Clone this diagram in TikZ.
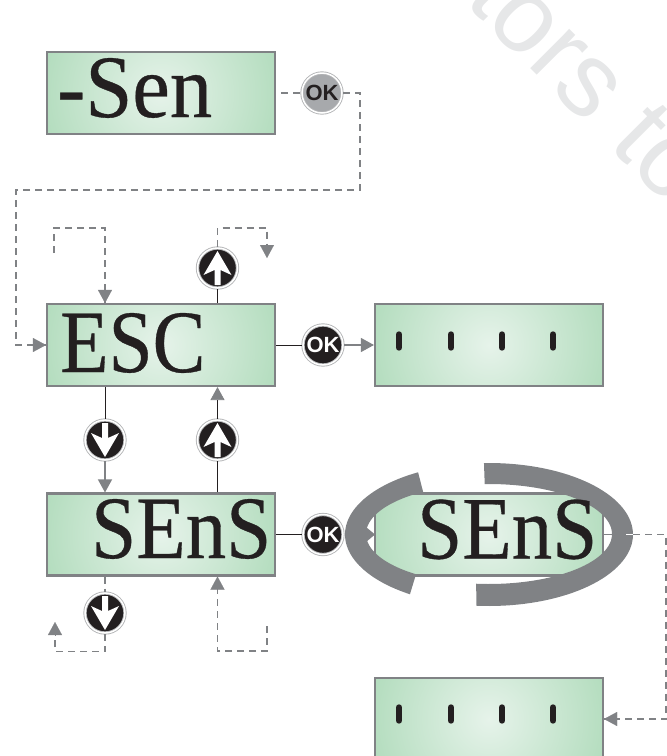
\documentclass[tikz,border=0pt]{standalone}
\usepackage{fontspec}
\setmainfont{Liberation Serif}
\newfontfamily\okfont{Liberation Sans}
\newfontfamily\lcdfont[FakeBold=0.4]{Liberation Serif}
\usetikzlibrary{arrows.meta,calc}
\definecolor{lcdgreen}{HTML}{A9D8B5}
\definecolor{lcdglow}{HTML}{E6F3EA}
\definecolor{framegray}{HTML}{808285}
\definecolor{ink}{HTML}{231F20}
\definecolor{ringgray}{HTML}{B4B5B7}
\definecolor{btngray}{HTML}{A7A9AC}
\definecolor{marklight}{HTML}{E6E7E8}
\tikzset{
  x=1pt,y=-1pt,
  lcd/.style={draw=framegray,line width=2.1pt,fill=lcdgreen,minimum width=228pt,minimum height=82pt,inner sep=0pt,
    path picture={\shade[inner color=lcdglow,outer color=lcdgreen] (path picture bounding box.center) circle (145pt);}},
  lcdtext/.style={anchor=base west,inner sep=0pt,text=ink,font=\lcdfont\fontsize{89}{92}\selectfont},
  btn/.style={circle,minimum size=40pt,inner sep=0pt,outer sep=1pt,draw=ringgray,line width=.9pt,double=white,double distance=1.5pt,fill=ink},
  btnoff/.style={btn,fill=btngray},
  oktext/.style={font=\okfont\bfseries\fontsize{22}{22}\selectfont},
  dashconn/.style={draw=framegray,line width=1.5pt,dash pattern=on 7pt off 5pt},
  solidconn/.style={draw=ink,line width=.8pt},
  tip/.style={-{Triangle[length=13pt,width=14pt,color=framegray]}},
  headonly/.style={draw=framegray,line width=.1pt,-{Triangle[length=13pt,width=14pt]}},
  uparrow/.pic={\fill[white] (0,-17) -- (14,7) -- (3,2) -- (3,17) -- (-3,17) -- (-3,2) -- (-14,7) -- cycle;},
  bar/.style={draw=ink,line width=6.4pt,line cap=round},
  ringfill/.style={fill=framegray}
}
\begin{document}
\begin{tikzpicture}
\useasboundingbox (0,0) rectangle (667,756);
\clip (0,0) rectangle (667,756);
\node[rotate=-45,text=marklight,inner sep=0pt,font=\okfont\fontsize{105}{105}\selectfont] (mark) at (590,81) {tors to};

% displays
\node[lcd] (sen) at (161,93) {};
\node[lcd] (esc) at (161,345) {};
\node[lcd] (dots) at (489,345) {};
\node[lcd] (sens) at (161,534.5) {};
\node[lcd] (sensb) at (489,534.5) {};
\node[lcd] (low) at (489,719) {};

% buttons
\node[btnoff,text=ink,oktext] (ok1) at (322,93) {OK};
\node[btn,text=white,oktext] (ok2) at (323,345) {OK};
\node[btn,text=white,oktext] (ok3) at (323,534.5) {OK};
\node[btn] (upa) at (217.5,268) {};
\node[btn] (dna) at (105,440) {};
\node[btn] (upb) at (217.5,440) {};
\node[btn] (dnb) at (105,613) {};
\pic at (upa) {uparrow};
\pic at (upb) {uparrow};
\pic[rotate=180] at (dna) {uparrow};
\pic[rotate=180] at (dnb) {uparrow};

% free ends of the connectors
\coordinate (railtop) at (360,93);
\coordinate (railmid) at (360,190);
\coordinate (railleft) at (16,190);
\coordinate (loopa) at (54,253);
\coordinate (loopb) at (54,228);
\coordinate (loopc) at (267,228);
\coordinate (loopd) at (267,258);
\coordinate (loope) at (55,622);
\coordinate (loopf) at (55,651.5);
\coordinate (loopg) at (267,626);
\coordinate (looph) at (267,651);
\coordinate (rail) at (666,534.5);

% connectors
\draw[dashconn,dash phase=7pt] (sen) -- (ok1);
\draw[dashconn] (ok1) -- (railtop) -- (railmid) -- (railleft) -- (railleft |- esc) -- (esc.west);
\draw[headonly] ($(esc.west)+(-14,0)$) -- (esc.west);
\draw[dashconn] (loopa) -- (loopb) -- (dna |- loopb) -- (dna |- esc.north);
\draw[headonly] ($(dna |- esc.north)+(0,-14)$) -- (dna |- esc.north);
\draw[solidconn] (esc.north -| upa) -- (upa);
\draw[dashconn] (upa) -- (upa |- loopc) -- (loopc) -- ($(loopd)+(0,-10)$);
\draw[headonly] ($(loopd)+(0,-13)$) -- (loopd);
\draw[solidconn] (esc) -- (ok2);
\draw[framegray,line width=1.1pt,tip] (ok2) -- (dots);
\draw[solidconn] (dna |- esc.south) -- (dna);
\draw[framegray,line width=1.3pt,tip] (dna) -- (dna |- sens.north);
\draw[solidconn] (upb |- sens.north) -- (upb);
\draw[solidconn,tip] (upb) -- (upb |- esc.south);
\draw[solidconn] (sens) -- (ok3);
\draw[dashconn] (dnb |- sens.south) -- (dnb);
\draw[dashconn] (dnb) -- (dnb |- loopf) -- (loopf) -- ($(loope)+(0,10)$);
\draw[headonly] ($(loope)+(0,13)$) -- (loope);
\draw[dashconn] (loopg) -- (looph) -- (upb |- looph) -- ($(upb |- sens.south)+(0,10)$);
\draw[headonly] ($(upb |- sens.south)+(0,13)$) -- (upb |- sens.south);

% ring round the blinking display
\fill[ringfill] plot[domain=92:-95,samples=70] ({489+144*cos(\x)},{534.5-71.5*sin(\x)})
  -- plot[domain=-96:92,samples=70] ({489+123*cos(\x)},{534-50*sin(\x)}) -- cycle;
\fill[ringfill] plot[domain=119.5:236.7,samples=50] ({489+144*cos(\x)},{534.5-71.5*sin(\x)})
  -- plot[domain=233.6:122.4,samples=50] ({489+123*cos(\x)},{534-50*sin(\x)}) -- cycle;
\fill[framegray] (366,527) -- (375,534.5) -- (366,542) -- cycle;
\draw[white,line width=1pt] (626,534.5) -- (633,534.5);
\draw[framegray,line width=1pt] (sensb.east) -- (612,534.5);
\draw[dashconn] (633,534.5) -- (rail) -- (rail |- low) -- (low.east);
\draw[headonly] ($(low.east)+(14,0)$) -- (low.east);

% readings
\node[lcdtext] (tsen) at (57,117) {\scalebox{.95}[1]{-Sen}};
\node[lcdtext] (tesc) at (60,372) {\scalebox{.89}[1]{ESC}};
\node[lcdtext] (tsens) at (91,558) {\scalebox{.91}[1]{SEnS}};
\node[lcdtext] (tsensb) at (417,558.5) {\scalebox{.91}[1]{SEnS}};
\foreach \bx in {399,451,502,553} {
  \draw[bar] (\bx,334.5) -- (\bx,347.5);
  \draw[bar] (\bx,707.5) -- (\bx,720.5);
}
\end{tikzpicture}
\end{document}
